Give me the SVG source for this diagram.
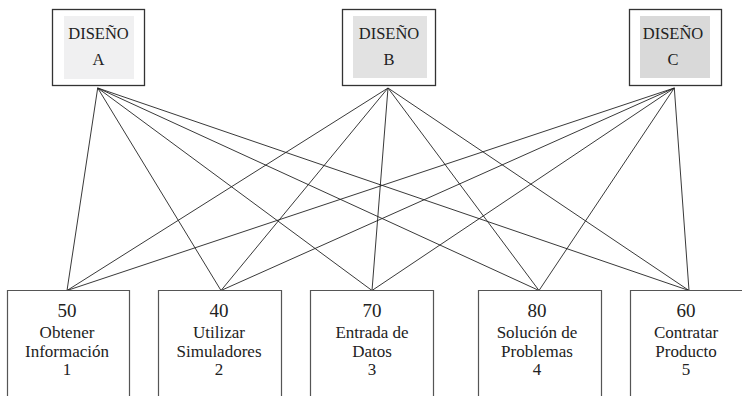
<svg xmlns="http://www.w3.org/2000/svg" width="742" height="396" viewBox="0 0 742 396" font-family="'Liberation Serif', 'DejaVu Serif', serif">
<style>
.top{fill:#fff;stroke:#333;stroke-width:1.3}
.bot{fill:#fff;stroke:#555;stroke-width:1.2}
text{font-family:'Liberation Serif','DejaVu Serif',serif;font-size:17px;fill:#222;text-anchor:middle}
.t text{font-size:16.5px}
.c line{stroke:#222;stroke-width:0.9}
</style>
<rect width="742" height="396" fill="#fff"/>
<g id="disenoA" class="t">
<rect class="top" x="52.5" y="9.5" width="92" height="76"/>
<rect x="64" y="16" width="70" height="63" fill="#f0f0f1"/>
<text x="98.5" y="39">DISEÑO</text>
<text x="98.5" y="65">A</text>
</g>
<g id="disenoB" class="t">
<rect class="top" x="342.5" y="9.5" width="93" height="76"/>
<rect x="353" y="16" width="74" height="62" fill="#e2e2e2"/>
<text x="389" y="39">DISEÑO</text>
<text x="389" y="65">B</text>
</g>
<g id="disenoC" class="t">
<rect class="top" x="629.5" y="9.5" width="92" height="76"/>
<rect x="640" y="16" width="70" height="62" fill="#d9d9d9"/>
<text x="673" y="39">DISEÑO</text>
<text x="673" y="65">C</text>
</g>
<g class="c" id="connectors">
<line x1="97.7" y1="88" x2="67" y2="290.5"/>
<line x1="97.7" y1="88" x2="221" y2="290.5"/>
<line x1="97.7" y1="88" x2="372" y2="290.5"/>
<line x1="97.7" y1="88" x2="539" y2="290.5"/>
<line x1="97.7" y1="88" x2="689" y2="290.5"/>
<line x1="388" y1="88" x2="67" y2="290.5"/>
<line x1="388" y1="88" x2="221" y2="290.5"/>
<line x1="388" y1="88" x2="372" y2="290.5"/>
<line x1="388" y1="88" x2="539" y2="290.5"/>
<line x1="388" y1="88" x2="689" y2="290.5"/>
<line x1="674.3" y1="88" x2="67" y2="290.5"/>
<line x1="674.3" y1="88" x2="221" y2="290.5"/>
<line x1="674.3" y1="88" x2="372" y2="290.5"/>
<line x1="674.3" y1="88" x2="539" y2="290.5"/>
<line x1="674.3" y1="88" x2="689" y2="290.5"/>
</g>
<g id="act1">
<path class="bot" d="M7.5 396V290.5H129.5V396"/>
<text x="67" y="317" style="font-size:19px">50</text>
<text x="67" y="338">Obtener</text>
<text x="67" y="357">Información</text>
<text x="67" y="375">1</text>
</g>
<g id="act2">
<path class="bot" d="M158.5 396V290.5H281.5V396"/>
<text x="219" y="317" style="font-size:19px">40</text>
<text x="219" y="338">Utilizar</text>
<text x="219" y="357">Simuladores</text>
<text x="219" y="375">2</text>
</g>
<g id="act3">
<path class="bot" d="M310.5 396V290.5H433.5V396"/>
<text x="372" y="317" style="font-size:19px">70</text>
<text x="372" y="338">Entrada de</text>
<text x="372" y="357">Datos</text>
<text x="372" y="375">3</text>
</g>
<g id="act4">
<path class="bot" d="M478.5 396V290.5H601.5V396"/>
<text x="537" y="317" style="font-size:19px">80</text>
<text x="537" y="338">Solución de</text>
<text x="537" y="357">Problemas</text>
<text x="537" y="375">4</text>
</g>
<g id="act5">
<path class="bot" d="M630.5 396V290.5H742"/>
<text x="686" y="317" style="font-size:19px">60</text>
<text x="686" y="338">Contratar</text>
<text x="686" y="357">Producto</text>
<text x="686" y="375">5</text>
</g>
</svg>
